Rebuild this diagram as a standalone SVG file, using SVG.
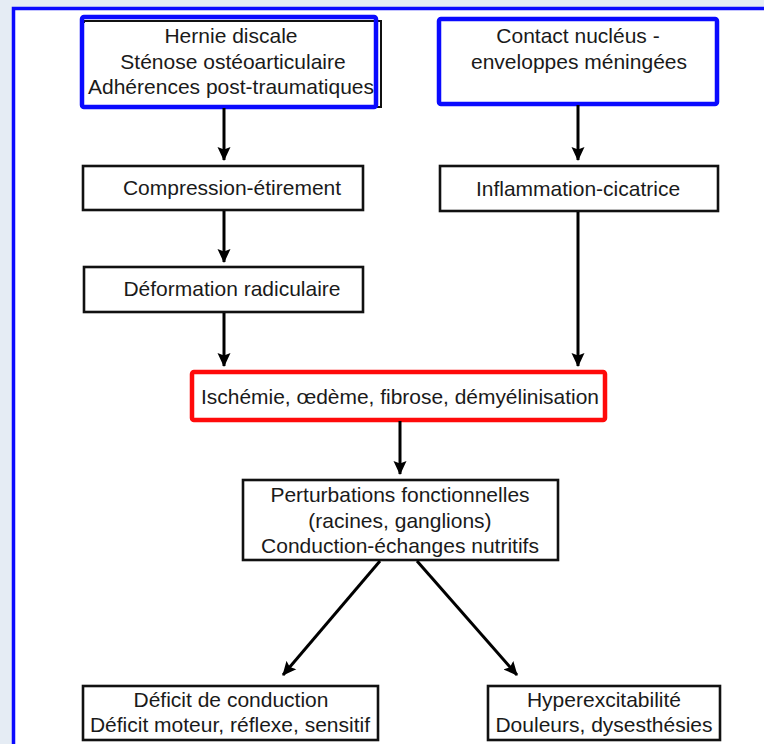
<svg xmlns="http://www.w3.org/2000/svg" width="764" height="744" viewBox="0 0 764 744">
<style>
  .bg { fill: #e5ecf4; }
  .panel { fill: #ffffff; stroke: #0a0aff; stroke-width: 3.5; }
  .box { fill: #ffffff; stroke: #111111; stroke-width: 2.6; }
  .blue { fill: none; stroke: #0a0aff; stroke-width: 4.5; }
  .red { fill: none; stroke: #ff0a0a; stroke-width: 4.5; }
  .thin { fill: none; stroke: #111111; stroke-width: 2; }
  text { font-family: "Liberation Sans", Arial, Helvetica, sans-serif; font-size: 21px; fill: #1a1a1a; text-anchor: middle; }
  .conn line { stroke: #000000; stroke-width: 3; marker-end: url(#arr); }
</style>
<defs>
  <marker id="arr" viewBox="0 0 14 14" refX="13" refY="7" markerWidth="14" markerHeight="14" markerUnits="userSpaceOnUse" orient="auto">
    <path d="M0,0.5 L14,7 L0,13.5 L2.5,7 Z" fill="#000000"/>
  </marker>
</defs>

<rect class="bg" x="0" y="0" width="764" height="744"/>
<rect class="panel" x="13.5" y="8.5" width="800" height="800"/>

<g id="n-causes">
  <rect class="thin" x="84" y="21" width="297" height="86"/>
  <rect fill="#ffffff" x="84" y="23" width="290" height="82"/>
  <rect class="blue" x="82" y="17" width="294" height="90" rx="2"/>
  <text x="231" y="43">Hernie discale</text>
  <text x="233" y="69">Sténose ostéoarticulaire</text>
  <text x="231" y="94">Adhérences post-traumatiques</text>
</g>

<g id="n-contact">
  <rect fill="#ffffff" x="439" y="19" width="278" height="85"/>
  <rect class="blue" x="439" y="19" width="278" height="85" rx="2"/>
  <text x="578" y="43">Contact nucléus -</text>
  <text x="579" y="69">enveloppes méningées</text>
</g>

<g id="n-compression">
  <rect class="box" x="83" y="166" width="280" height="44"/>
  <text x="232" y="195">Compression-étirement</text>
</g>

<g id="n-deformation">
  <rect class="box" x="84" y="267" width="279" height="45"/>
  <text x="232" y="296">Déformation radiculaire</text>
</g>

<g id="n-inflammation">
  <rect class="box" x="440" y="166" width="278" height="45"/>
  <text x="578" y="196">Inflammation-cicatrice</text>
</g>

<g id="n-ischemie">
  <rect fill="#ffffff" x="192" y="372" width="413" height="48"/>
  <rect class="red" x="192" y="372" width="413" height="48" rx="2"/>
  <text x="400" y="404" textLength="398" lengthAdjust="spacingAndGlyphs">Ischémie, œdème, fibrose, démyélinisation</text>
</g>

<g id="n-perturbations">
  <rect class="box" x="243" y="480" width="315" height="80"/>
  <text x="400" y="502">Perturbations fonctionnelles</text>
  <text x="400" y="528">(racines, ganglions)</text>
  <text x="400" y="553">Conduction-échanges nutritifs</text>
</g>

<g id="n-deficit">
  <rect class="box" x="83" y="686" width="295" height="54"/>
  <text x="231" y="707">Déficit de conduction</text>
  <text x="230" y="732">Déficit moteur, réflexe, sensitif</text>
</g>

<g id="n-hyper">
  <rect class="box" x="488" y="686" width="232" height="54"/>
  <text x="604" y="707">Hyperexcitabilité</text>
  <text x="604" y="732">Douleurs, dysesthésies</text>
</g>

<g id="connectors" class="conn">
  <line x1="224" y1="108" x2="224" y2="160"/>
  <line x1="224" y1="211" x2="224" y2="262"/>
  <line x1="224" y1="313" x2="224" y2="366"/>
  <line x1="578" y1="105" x2="578" y2="160"/>
  <line x1="578" y1="212" x2="578" y2="366"/>
  <line x1="400" y1="421" x2="400" y2="474"/>
  <line x1="380" y1="561" x2="283" y2="675"/>
  <line x1="417" y1="561" x2="517" y2="675"/>
</g>
</svg>
